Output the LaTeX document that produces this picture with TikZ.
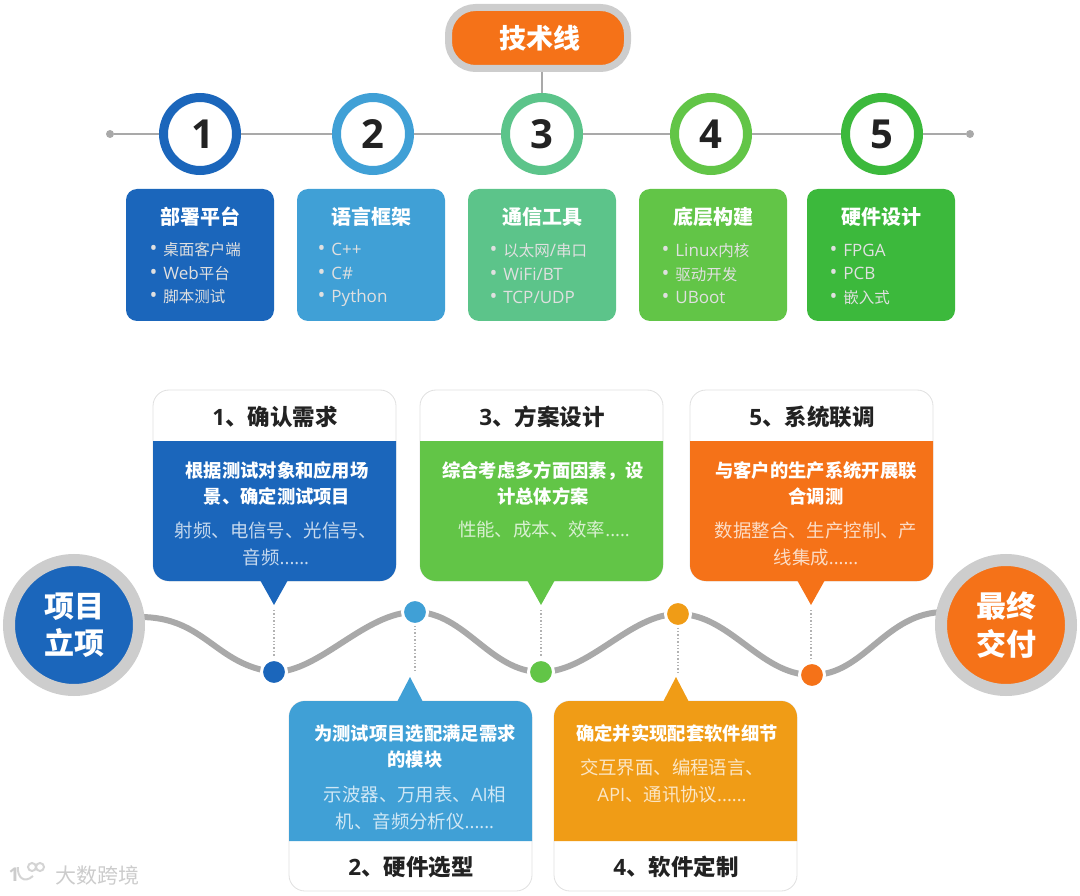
\documentclass[tikz,border=0pt]{standalone}
\usepackage{fontspec}
\setmainfont{Noto Sans CJK SC}
\newfontfamily\latfont{Open Sans}
\newfontfamily\listfont[Scale=1.1]{Open Sans}
\usetikzlibrary{calc, shapes.geometric}
\definecolor{cblue}{HTML}{1B66BB}
\definecolor{csky}{HTML}{40A0D6}
\definecolor{cteal}{HTML}{5CC48A}
\definecolor{cgreen}{HTML}{62C547}
\definecolor{cleaf}{HTML}{3CB93C}
\definecolor{corange}{HTML}{F57218}
\definecolor{camber}{HTML}{F09C16}
\definecolor{cring}{HTML}{CDCDCD}
\definecolor{cwave}{HTML}{A9A9A9}
\definecolor{cink}{HTML}{222222}
\newcommand{\lat}[1]{{\latfont #1}}
\newcommand{\ilat}[1]{{\listfont #1}}
\newcommand{\fs}[2]{\fontsize{#1}{#2}\selectfont}
\newcommand{\bul}{{\listfont\fs{19}{23.5}•}\hspace{6pt}}
% left edge, tip, colour
\newcommand{\cardabove}[3]{
  \filldraw[cardline] (#1,390) [rounded corners=16pt] -- (#1+243,390) -- (#1+243,581) -- (#1,581) -- cycle;
  \fill[#3] (#1,441) -- (#1+243,441) [rounded corners=16pt] -- (#1+243,581) -- (#1,581) [sharp corners] -- cycle;
  \fill[#3] (#2-14,580) -- (#2+14,580) -- (#2,605) -- cycle;
}
\newcommand{\cardbelow}[3]{
  \filldraw[cardline] (#1,701) [rounded corners=16pt] -- (#1+243,701) -- (#1+243,891) -- (#1,891) -- cycle;
  \fill[#3] (#1,841) -- (#1+243,841) [rounded corners=16pt] -- (#1+243,701) -- (#1,701) [sharp corners] -- cycle;
  \fill[#3] (#2-13,702) -- (#2+13,702) -- (#2,677) -- cycle;
}
\tikzset{
  numring/.style={circle, draw=#1, fill=white, line width=9pt, minimum size=73pt, inner sep=0pt, font=\latfont\bfseries\fs{40}{40}, text=cink},
  techcard/.style={fill=#1, rounded corners=11pt, minimum width=148pt, minimum height=132pt, inner sep=0pt},
  techhead/.style={font=\bfseries\fs{20}{24}, text=white},
  techlist/.style={font=\fs{15.5}{23.5}, text=white!88!black, align=left, anchor=west},
  cardline/.style={draw=black!12, fill=white, line width=0.8pt},
  cardhead/.style={font=\bfseries\fs{22.5}{26}, text=cink},
  cardmain/.style={font=\bfseries\fs{18.3}{26}, text=white, align=center},
  cardsub/.style={font=\fs{18.4}{27}, text=white!75!#1, align=center},
  bigdot/.style={circle, fill=#1, draw=white, line width=3pt, minimum size=25pt, inner sep=0pt},
  bigend/.style={circle, fill=#1, draw=cring, line width=12pt, minimum size=130pt, inner sep=0pt, font=\bfseries\fs{30}{37.5}, text=white, align=center},
  wave/.style={draw=cwave, line width=6pt},
  leader/.style={draw=black!30, line width=1.4pt, dotted},
  logoline/.style={draw=black!17, line width=2pt},
}
\begin{document}
\begin{tikzpicture}[x=1pt, y=-1pt]
  \useasboundingbox (0,0) rectangle (1080,896);
  % technology line
  \node[circle, fill=cwave, minimum size=8pt, inner sep=0pt] (lineL) at (110,134) {};
  \node[circle, fill=cwave, minimum size=8pt, inner sep=0pt] (lineR) at (970,134) {};
  \node[fill=corange, draw=cring, line width=7pt, rounded corners=27pt, minimum width=179pt, minimum height=61pt, inner sep=0pt, font=\bfseries\fs{27}{30}, text=white] (tech) at (538,38) {\hspace{3pt}技术线};
  \node[numring=cblue] (n1) at (200,134) {\hspace{5pt}1};
  \node[numring=csky] (n2) at (373,134) {2};
  \node[numring=cteal] (n3) at (542,134) {3};
  \node[numring=cgreen] (n4) at (711,134) {4};
  \node[numring=cleaf] (n5) at (882,134) {5};
  \draw[cwave, line width=1.8pt] (lineL) -- (n1) (n1) -- (n2) (n2) -- (n3) (n3) -- (n4) (n4) -- (n5) (n5) -- (lineR);
  \draw[cwave, line width=1.8pt] (tech.south -| n3) -- (n3);

  \node[techcard=cblue] (t1) at (200,255) {};
  \node[techcard=csky] (t2) at (371,255) {};
  \node[techcard=cteal] (t3) at (542,255) {};
  \node[techcard=cgreen] (t4) at (713,255) {};
  \node[techcard=cleaf] (t5) at (881,255) {};
  \node[techhead] (h1) at (200,217) {部署平台};
  \node[techhead] (h2) at (371,217) {语言框架};
  \node[techhead] (h3) at (542,217) {通信工具};
  \node[techhead] (h4) at (713,217) {底层构建};
  \node[techhead] (h5) at (881,217) {硬件设计};
  \node[techlist] (l1) at (146,273.5) {\bul 桌面客户端\\\bul\ilat{Web}平台\\\bul 脚本测试};
  \node[techlist] (l2) at (314,275) {\bul\ilat{C++}\\\bul\ilat{C\#}\\\bul\ilat{Python}};
  \node[techlist] (l3) at (486,274) {\bul 以太网\ilat{/}串口\\\bul\ilat{WiFi/BT}\\\bul\ilat{TCP/UDP}};
  \node[techlist] (l4) at (658,274) {\bul\ilat{Linux}内核\\\bul 驱动开发\\\bul\ilat{UBoot}};
  \node[techlist] (l5) at (826,274) {\bul\ilat{FPGA}\\\bul\ilat{PCB}\\\bul 嵌入式};

  % wave with its dots
  \coordinate (waveL) at (140,617);
  \coordinate (waveR) at (945,612);
  \coordinate (w1) at (274,672);
  \coordinate (w2) at (415,612);
  \coordinate (w3) at (541,672);
  \coordinate (w4) at (678,614);
  \coordinate (w5) at (812,675);
  \draw[wave] (waveL) .. controls (205,617) and (215,665) .. (w1)
    .. controls (320,672) and (365,612) .. (w2)
    .. controls (465,612) and (490,672) .. (w3)
    .. controls (590,672) and (630,614) .. (w4)
    .. controls (730,614) and (760,675) .. (w5)
    .. controls (865,675) and (885,612) .. (waveR);
  \node[bigend=cblue] (start) at (74,625) {项目\\立项};
  \node[bigend=corange] (finish) at (1006,625) {最终\\交付};

  % cards
  \cardabove{153}{274}{cblue}
  \cardabove{420}{541}{cgreen}
  \cardabove{690}{811}{corange}
  \cardbelow{289}{410}{csky}
  \cardbelow{554}{676}{camber}
  \coordinate (p1) at (274,610);
  \coordinate (p2) at (415,672);
  \coordinate (p3) at (541,610);
  \coordinate (p4) at (678,672);
  \coordinate (p5) at (811,610);
  \draw[leader] (p1) -- (w1);
  \draw[leader] (w2) -- (p2);
  \draw[leader] (p3) -- (w3);
  \draw[leader] (w4) -- (p4);
  \draw[leader] (p5) -- (p5 |- w5);
  \node[bigdot=cblue] (d1) at (w1) {};
  \node[bigdot=csky] (d2) at (w2) {};
  \node[bigdot=cgreen] (d3) at (w3) {};
  \node[bigdot=camber] (d4) at (w4) {};
  \node[bigdot=corange] (d5) at (w5) {};

  \node[cardhead] (c1) at (275,417) {\lat{1}、确认需求};
  \node[cardmain] (m1) at (277,483) {根据测试对象和应用场\\景、确定测试项目};
  \node[cardsub=cblue] (s1) at (276,544) {射频、电信号、光信号、\\音频\lat{......}};
  \node[cardhead] (c3) at (542,417) {\lat{3}、方案设计};
  \node[cardmain] (m3) at (543,483) {综合考虑多方面因素，设\\计总体方案};
  \node[cardsub=cgreen] (s3) at (544,530) {性能、成本、效率\lat{.....}};
  \node[cardhead] (c5) at (812,417) {\lat{5}、系统联调};
  \node[cardmain] (m5) at (816,483) {与客户的生产系统开展联\\合调测};
  \node[cardsub=corange] (s5) at (816,544) {数据整合、生产控制、产\\线集成\lat{......}};
  \node[cardhead] (c2) at (411,867) {\lat{2}、硬件选型};
  \node[cardmain] (m2) at (415,747) {为测试项目选配满足需求\\的模块};
  \node[cardsub=csky] (s2) at (415,808) {示波器、万用表、\lat{AI}相\\机、音频分析仪\lat{......}};
  \node[cardhead] (c4) at (676,867) {\lat{4}、软件定制};
  \node[cardmain] (m4) at (677,733) {确定并实现配套软件细节};
  \node[cardsub=camber] (s4) at (672,781) {交互界面、编程语言、\\\lat{API}、通讯协议\lat{......}};

  % watermark
  \node[font=\fs{21}{24}, text=black!20, anchor=west, inner sep=0pt] (mark) at (55,875) {大数跨境};
  \node[font=\latfont\bfseries\fs{19}{20}, text=black!20, inner sep=0pt] (mark1) at (14,875) {1};
  \node[circle, logoline, minimum size=8pt, inner sep=0pt] (mark2) at (32,867) {};
  \node[circle, logoline, minimum size=8pt, inner sep=0pt] (mark3) at (40,867) {};
  \draw[logoline] (18,867) .. controls (17,877) and (24,884) .. (33,876);
\end{tikzpicture}
\end{document}
